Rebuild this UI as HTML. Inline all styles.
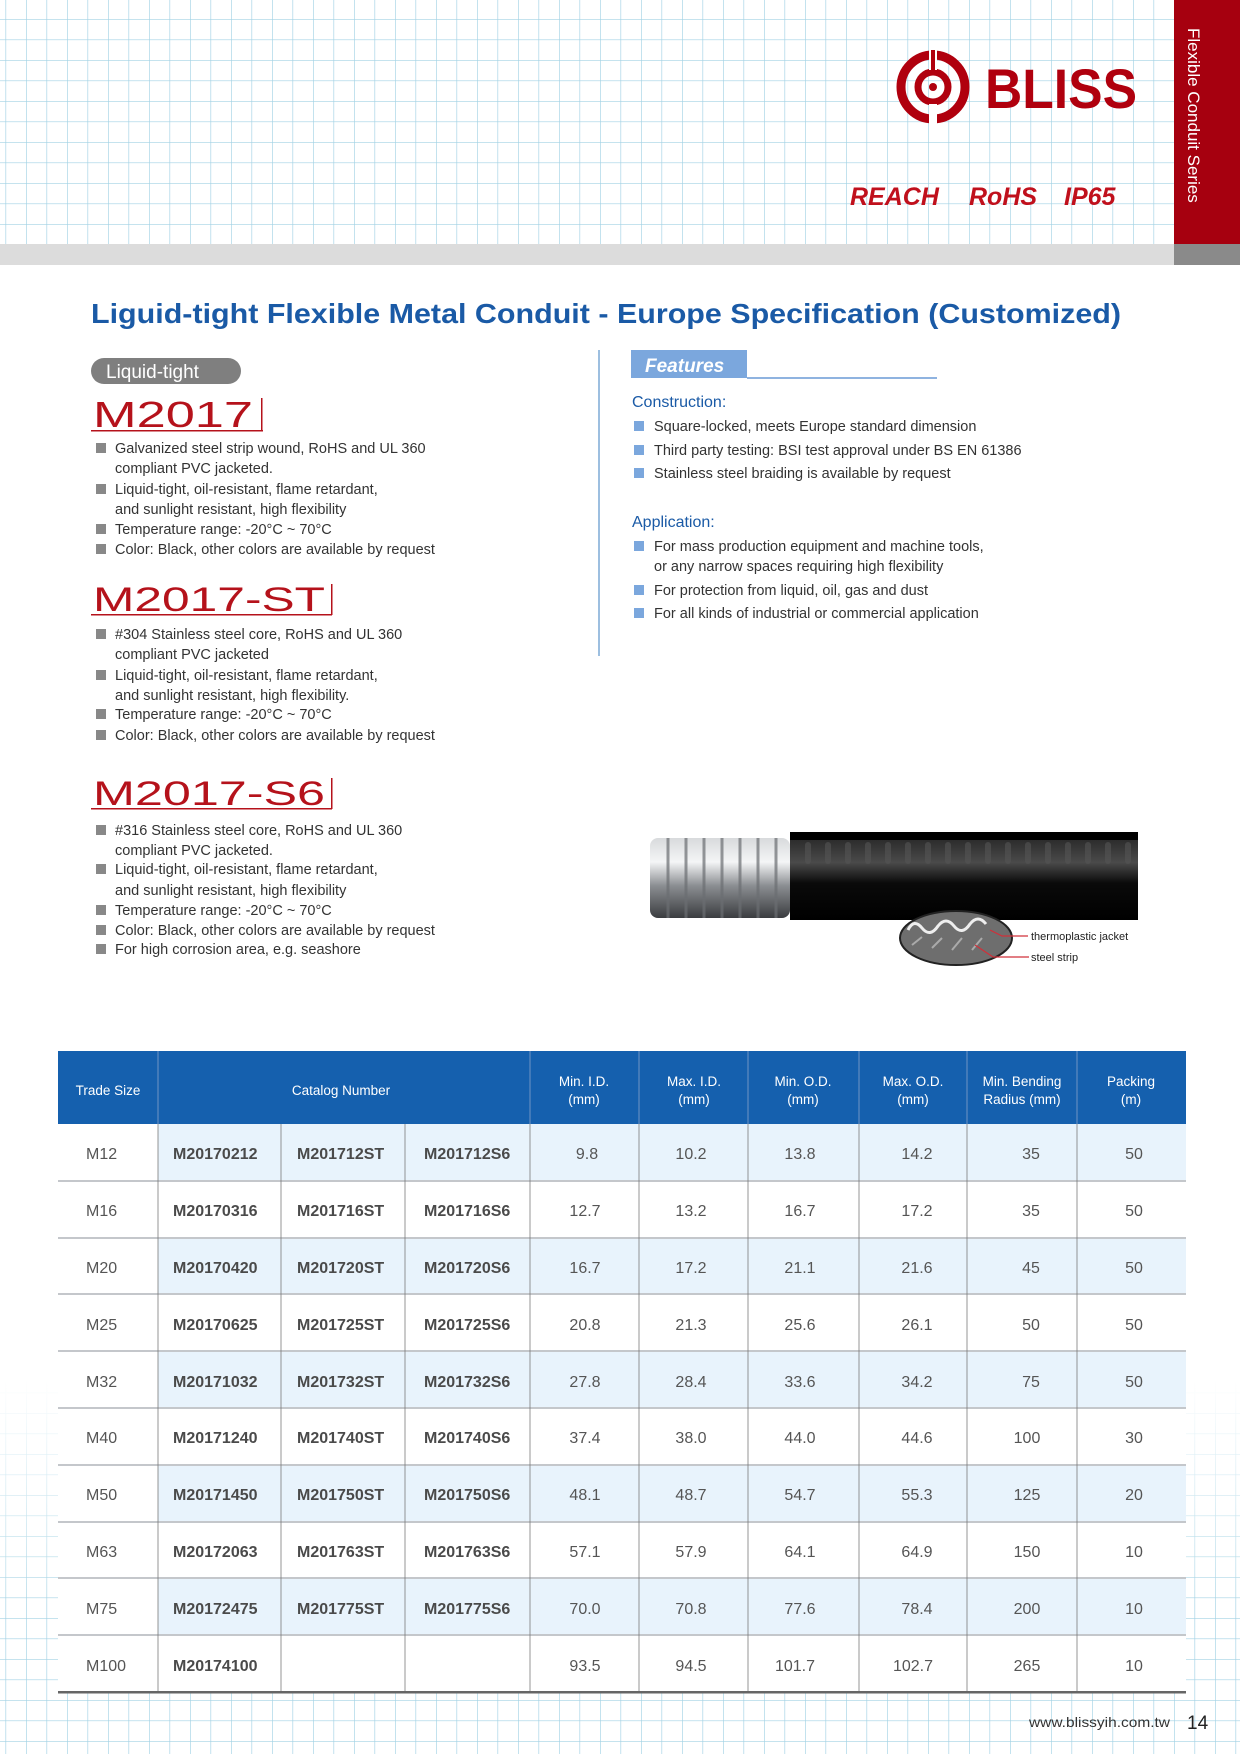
<!DOCTYPE html>
<html><head><meta charset="utf-8"><style>
html,body{margin:0;padding:0;background:#fff}
svg{display:block}
text{font-family:"Liberation Sans",sans-serif}
</style></head><body>
<svg width="1240" height="1754" viewBox="0 0 1240 1754" xmlns="http://www.w3.org/2000/svg">
<defs>
<pattern id="g" x="5.5" y="19" width="20.5" height="20.5" patternUnits="userSpaceOnUse">
<path d="M0 0V20.5M0 0H20.5" stroke="#a2d2e4" stroke-width="1.3" fill="none"/>
</pattern>
<linearGradient id="fade" x1="0" y1="0" x2="0" y2="1">
<stop offset="0" stop-color="#fff" stop-opacity="0"/>
<stop offset="0.6" stop-color="#fff" stop-opacity="1"/>
<stop offset="1" stop-color="#fff" stop-opacity="1"/>
</linearGradient>
<mask id="m"><rect x="0" y="1380" width="1240" height="374" fill="url(#fade)"/></mask>
<linearGradient id="silver" x1="0" y1="0" x2="0" y2="1">
<stop offset="0" stop-color="#d8dadc"/><stop offset="0.3" stop-color="#f4f5f6"/><stop offset="0.6" stop-color="#8a8d91"/><stop offset="1" stop-color="#3b3d40"/>
</linearGradient>
<linearGradient id="black" x1="0" y1="0" x2="0" y2="1">
<stop offset="0" stop-color="#2a2a2a"/><stop offset="0.3" stop-color="#4a4a4a"/><stop offset="0.55" stop-color="#0a0a0a"/><stop offset="1" stop-color="#000"/>
</linearGradient>
</defs>
<rect x="0" y="0" width="1174" height="244" fill="url(#g)"/>
<rect x="0" y="244" width="1174" height="21" fill="#dcdcdc"/>
<rect x="1174" y="0" width="66" height="244" fill="#a6000f"/>
<rect x="1174" y="244" width="66" height="21" fill="#8a8a8a"/>
<text transform="translate(1188,28) rotate(90)" font-size="17" fill="#fff">Flexible Conduit Series</text>
<rect x="0" y="1380" width="1240" height="374" fill="url(#g)" mask="url(#m)"/>
<circle cx="933" cy="87" r="32" fill="none" stroke="#b0000e" stroke-width="9"/>
<circle cx="933" cy="87" r="15" fill="none" stroke="#b0000e" stroke-width="7"/>
<circle cx="933" cy="87" r="4" fill="#b0000e"/>
<rect x="929" y="50" width="8" height="20" fill="#fff"/>
<rect x="931" y="50" width="4" height="22" fill="#b0000e"/>
<rect x="929" y="104" width="8" height="22" fill="#fff"/>
<text x="985" y="108" font-size="56" font-weight="bold" fill="#b0000e" textLength="152" lengthAdjust="spacingAndGlyphs">BLISS</text>
<text x="850" y="205" font-size="25" font-weight="bold" font-style="italic" fill="#c0101c">REACH</text>
<text x="969" y="205" font-size="25" font-weight="bold" font-style="italic" fill="#c0101c">RoHS</text>
<text x="1064" y="205" font-size="25" font-weight="bold" font-style="italic" fill="#c0101c">IP65</text>
<text x="91" y="323" font-size="28" font-weight="bold" fill="#1a5aa6" textLength="1030" lengthAdjust="spacingAndGlyphs">Liguid-tight Flexible Metal Conduit - Europe Specification (Customized)</text>
<rect x="91" y="358" width="150" height="26" rx="13" fill="#7f7f7f"/>
<text x="106" y="378" font-size="19" fill="#fff">Liquid-tight</text>
<g fill="#b5121b">
<text x="93" y="427" font-size="36" textLength="160" lengthAdjust="spacingAndGlyphs">M2017</text>
<rect x="91" y="430" width="172" height="1.5"/><rect x="261" y="398" width="1.5" height="33"/>
<text x="93" y="611" font-size="34" textLength="232" lengthAdjust="spacingAndGlyphs">M2017-ST</text>
<rect x="91" y="614" width="241" height="1.5"/><rect x="331" y="584" width="1.5" height="31"/>
<text x="93" y="805" font-size="34" textLength="232" lengthAdjust="spacingAndGlyphs">M2017-S6</text>
<rect x="91" y="808" width="241" height="1.5"/><rect x="331" y="778" width="1.5" height="31"/>
</g>
<g font-size="14.5" fill="#333">
<g fill="#888">
<rect x="96" y="443" width="10" height="10"/><rect x="96" y="484" width="10" height="10"/><rect x="96" y="524" width="10" height="10"/><rect x="96" y="544" width="10" height="10"/>
<rect x="96" y="629" width="10" height="10"/><rect x="96" y="670" width="10" height="10"/><rect x="96" y="709" width="10" height="10"/><rect x="96" y="730" width="10" height="10"/>
<rect x="96" y="825" width="10" height="10"/><rect x="96" y="864" width="10" height="10"/><rect x="96" y="905" width="10" height="10"/><rect x="96" y="925" width="10" height="10"/><rect x="96" y="944" width="10" height="10"/>
</g>
<text x="115" y="453">Galvanized steel strip wound, RoHS and UL 360</text>
<text x="115" y="473">compliant PVC jacketed.</text>
<text x="115" y="494">Liquid-tight, oil-resistant, flame retardant,</text>
<text x="115" y="514">and sunlight resistant, high flexibility</text>
<text x="115" y="534">Temperature range: -20°C ~ 70°C</text>
<text x="115" y="554">Color: Black, other colors are available by request</text>
<text x="115" y="639">#304 Stainless steel core, RoHS and UL 360</text>
<text x="115" y="659">compliant PVC jacketed</text>
<text x="115" y="680">Liquid-tight, oil-resistant, flame retardant,</text>
<text x="115" y="700">and sunlight resistant, high flexibility.</text>
<text x="115" y="719">Temperature range: -20°C ~ 70°C</text>
<text x="115" y="740">Color: Black, other colors are available by request</text>
<text x="115" y="835">#316 Stainless steel core, RoHS and UL 360</text>
<text x="115" y="855">compliant PVC jacketed.</text>
<text x="115" y="874">Liquid-tight, oil-resistant, flame retardant,</text>
<text x="115" y="895">and sunlight resistant, high flexibility</text>
<text x="115" y="915">Temperature range: -20°C ~ 70°C</text>
<text x="115" y="935">Color: Black, other colors are available by request</text>
<text x="115" y="954">For high corrosion area, e.g. seashore</text>
</g>
<rect x="598" y="350" width="2" height="306" fill="#9dbfe0"/>
<rect x="631" y="350" width="116" height="28" fill="#7ba7dd"/>
<text x="645" y="372" font-size="19" font-weight="bold" font-style="italic" fill="#fff">Features</text>
<rect x="747" y="377" width="190" height="2" fill="#8fb3e0"/>
<g font-size="14.5" fill="#333">
<text x="632" y="407" font-size="16" fill="#1a5aa6">Construction:</text>
<text x="632" y="527" font-size="16" fill="#1a5aa6">Application:</text>
<g fill="#7ba7dd">
<rect x="634" y="421" width="10" height="10"/><rect x="634" y="445" width="10" height="10"/><rect x="634" y="468" width="10" height="10"/>
<rect x="634" y="541" width="10" height="10"/><rect x="634" y="585" width="10" height="10"/><rect x="634" y="608" width="10" height="10"/>
</g>
<text x="654" y="431">Square-locked, meets Europe standard dimension</text>
<text x="654" y="455">Third party testing: BSI test approval under BS EN 61386</text>
<text x="654" y="478">Stainless steel braiding is available by request</text>
<text x="654" y="551">For mass production equipment and machine tools,</text>
<text x="654" y="571">or any narrow spaces requiring high flexibility</text>
<text x="654" y="595">For protection from liquid, oil, gas and dust</text>
<text x="654" y="618">For all kinds of industrial or commercial application</text>
</g>
<rect x="650" y="838" width="140" height="80" rx="8" fill="url(#silver)"/>
<g stroke="#6b6e72" stroke-width="3" opacity="0.7">
<line x1="668" y1="838" x2="668" y2="918"/><line x1="686" y1="838" x2="686" y2="918"/><line x1="704" y1="838" x2="704" y2="918"/><line x1="722" y1="838" x2="722" y2="918"/><line x1="740" y1="838" x2="740" y2="918"/><line x1="758" y1="838" x2="758" y2="918"/><line x1="776" y1="838" x2="776" y2="918"/>
</g>
<rect x="790" y="838" width="348" height="82" fill="url(#black)"/>
<rect x="790" y="832" width="348" height="8" fill="#000"/>
<g fill="#555" opacity="0.6">
<rect x="805" y="842" width="6" height="22" rx="3"/><rect x="825" y="842" width="6" height="22" rx="3"/><rect x="845" y="842" width="6" height="22" rx="3"/><rect x="865" y="842" width="6" height="22" rx="3"/><rect x="885" y="842" width="6" height="22" rx="3"/><rect x="905" y="842" width="6" height="22" rx="3"/><rect x="925" y="842" width="6" height="22" rx="3"/><rect x="945" y="842" width="6" height="22" rx="3"/><rect x="965" y="842" width="6" height="22" rx="3"/><rect x="985" y="842" width="6" height="22" rx="3"/><rect x="1005" y="842" width="6" height="22" rx="3"/><rect x="1025" y="842" width="6" height="22" rx="3"/><rect x="1045" y="842" width="6" height="22" rx="3"/><rect x="1065" y="842" width="6" height="22" rx="3"/><rect x="1085" y="842" width="6" height="22" rx="3"/><rect x="1105" y="842" width="6" height="22" rx="3"/><rect x="1125" y="842" width="6" height="22" rx="3"/>
</g>
<ellipse cx="956" cy="938" rx="56" ry="27" fill="#6e6e6e" stroke="#222" stroke-width="2"/>
<path d="M908 930 q6 -12 14 -2 q8 10 16 -2 q8 -10 16 0 q8 10 16 -2 q8 -10 16 0" fill="none" stroke="#eee" stroke-width="3"/>
<path d="M912 945 l10 -8 M932 948 l10 -10 M952 950 l10 -12 M972 950 l10 -12" stroke="#aaa" stroke-width="2"/>
<path d="M990 930 l12 6 h26 M975 945 l18 12 h36" fill="none" stroke="#d0303a" stroke-width="1.2"/>
<text x="1031" y="940" font-size="11" fill="#222">thermoplastic jacket</text>
<text x="1031" y="961" font-size="11" fill="#222">steel strip</text>
<rect x="58" y="1051" width="1128" height="73" fill="#1560ae"/>
<g stroke="#6f93c4" stroke-width="1">
<line x1="158" y1="1051" x2="158" y2="1124"/><line x1="530" y1="1051" x2="530" y2="1124"/><line x1="639" y1="1051" x2="639" y2="1124"/><line x1="748" y1="1051" x2="748" y2="1124"/><line x1="859" y1="1051" x2="859" y2="1124"/><line x1="967" y1="1051" x2="967" y2="1124"/><line x1="1077" y1="1051" x2="1077" y2="1124"/>
</g>
<g font-size="13.5" fill="#fff" text-anchor="middle">
<text x="108" y="1095">Trade Size</text>
<text x="341" y="1095">Catalog Number</text>
<text x="584" y="1086">Min. I.D.</text><text x="584" y="1104">(mm)</text>
<text x="694" y="1086">Max. I.D.</text><text x="694" y="1104">(mm)</text>
<text x="803" y="1086">Min. O.D.</text><text x="803" y="1104">(mm)</text>
<text x="913" y="1086">Max. O.D.</text><text x="913" y="1104">(mm)</text>
<text x="1022" y="1086">Min. Bending</text><text x="1022" y="1104">Radius (mm)</text>
<text x="1131" y="1086">Packing</text><text x="1131" y="1104">(m)</text>
</g>
<rect x="58" y="1124" width="1128" height="568" fill="#fff"/>
<g fill="#e8f3fc">
<rect x="158" y="1124" width="1028" height="57"/><rect x="158" y="1238" width="1028" height="57"/><rect x="158" y="1351" width="1028" height="57"/><rect x="158" y="1465" width="1028" height="57"/><rect x="158" y="1578" width="1028" height="57"/>
</g>
<g stroke="#c4c7cb" stroke-width="2">
<line x1="58" y1="1181" x2="1186" y2="1181"/><line x1="58" y1="1238" x2="1186" y2="1238"/><line x1="58" y1="1294" x2="1186" y2="1294"/><line x1="58" y1="1351" x2="1186" y2="1351"/><line x1="58" y1="1408" x2="1186" y2="1408"/><line x1="58" y1="1465" x2="1186" y2="1465"/><line x1="58" y1="1522" x2="1186" y2="1522"/><line x1="58" y1="1578" x2="1186" y2="1578"/><line x1="58" y1="1635" x2="1186" y2="1635"/>
</g>
<g stroke="#7a7a7a" stroke-width="0.8">
<line x1="158" y1="1124" x2="158" y2="1692"/><line x1="281" y1="1124" x2="281" y2="1692"/><line x1="405" y1="1124" x2="405" y2="1692"/><line x1="530" y1="1124" x2="530" y2="1692"/><line x1="639" y1="1124" x2="639" y2="1692"/><line x1="748" y1="1124" x2="748" y2="1692"/><line x1="859" y1="1124" x2="859" y2="1692"/><line x1="967" y1="1124" x2="967" y2="1692"/><line x1="1077" y1="1124" x2="1077" y2="1692"/>
</g>
<rect x="58" y="1691" width="1128" height="2.5" fill="#666"/>
<g font-size="16" fill="#555">
<text x="86" y="1159">M12</text><text x="86" y="1216">M16</text><text x="86" y="1273">M20</text><text x="86" y="1330">M25</text><text x="86" y="1387">M32</text><text x="86" y="1443">M40</text><text x="86" y="1500">M50</text><text x="86" y="1557">M63</text><text x="86" y="1614">M75</text><text x="86" y="1671">M100</text>
</g>
<g font-size="16" font-weight="bold" fill="#4a4a4a">
<text x="173" y="1159">M20170212</text><text x="297" y="1159">M201712ST</text><text x="424" y="1159">M201712S6</text>
<text x="173" y="1216">M20170316</text><text x="297" y="1216">M201716ST</text><text x="424" y="1216">M201716S6</text>
<text x="173" y="1273">M20170420</text><text x="297" y="1273">M201720ST</text><text x="424" y="1273">M201720S6</text>
<text x="173" y="1330">M20170625</text><text x="297" y="1330">M201725ST</text><text x="424" y="1330">M201725S6</text>
<text x="173" y="1387">M20171032</text><text x="297" y="1387">M201732ST</text><text x="424" y="1387">M201732S6</text>
<text x="173" y="1443">M20171240</text><text x="297" y="1443">M201740ST</text><text x="424" y="1443">M201740S6</text>
<text x="173" y="1500">M20171450</text><text x="297" y="1500">M201750ST</text><text x="424" y="1500">M201750S6</text>
<text x="173" y="1557">M20172063</text><text x="297" y="1557">M201763ST</text><text x="424" y="1557">M201763S6</text>
<text x="173" y="1614">M20172475</text><text x="297" y="1614">M201775ST</text><text x="424" y="1614">M201775S6</text>
<text x="173" y="1671">M20174100</text>
</g>
<g font-size="16" fill="#555" text-anchor="middle">
<text x="587" y="1159">9.8</text><text x="691" y="1159">10.2</text><text x="800" y="1159">13.8</text><text x="917" y="1159">14.2</text><text x="1031" y="1159">35</text><text x="1134" y="1159">50</text>
<text x="585" y="1216">12.7</text><text x="691" y="1216">13.2</text><text x="800" y="1216">16.7</text><text x="917" y="1216">17.2</text><text x="1031" y="1216">35</text><text x="1134" y="1216">50</text>
<text x="585" y="1273">16.7</text><text x="691" y="1273">17.2</text><text x="800" y="1273">21.1</text><text x="917" y="1273">21.6</text><text x="1031" y="1273">45</text><text x="1134" y="1273">50</text>
<text x="585" y="1330">20.8</text><text x="691" y="1330">21.3</text><text x="800" y="1330">25.6</text><text x="917" y="1330">26.1</text><text x="1031" y="1330">50</text><text x="1134" y="1330">50</text>
<text x="585" y="1387">27.8</text><text x="691" y="1387">28.4</text><text x="800" y="1387">33.6</text><text x="917" y="1387">34.2</text><text x="1031" y="1387">75</text><text x="1134" y="1387">50</text>
<text x="585" y="1443">37.4</text><text x="691" y="1443">38.0</text><text x="800" y="1443">44.0</text><text x="917" y="1443">44.6</text><text x="1027" y="1443">100</text><text x="1134" y="1443">30</text>
<text x="585" y="1500">48.1</text><text x="691" y="1500">48.7</text><text x="800" y="1500">54.7</text><text x="917" y="1500">55.3</text><text x="1027" y="1500">125</text><text x="1134" y="1500">20</text>
<text x="585" y="1557">57.1</text><text x="691" y="1557">57.9</text><text x="800" y="1557">64.1</text><text x="917" y="1557">64.9</text><text x="1027" y="1557">150</text><text x="1134" y="1557">10</text>
<text x="585" y="1614">70.0</text><text x="691" y="1614">70.8</text><text x="800" y="1614">77.6</text><text x="917" y="1614">78.4</text><text x="1027" y="1614">200</text><text x="1134" y="1614">10</text>
<text x="585" y="1671">93.5</text><text x="691" y="1671">94.5</text><text x="795" y="1671">101.7</text><text x="913" y="1671">102.7</text><text x="1027" y="1671">265</text><text x="1134" y="1671">10</text>
</g>
<text x="1029" y="1727" font-size="14" fill="#333" textLength="141" lengthAdjust="spacingAndGlyphs">www.blissyih.com.tw</text>
<text x="1187" y="1729" font-size="19" fill="#222">14</text>
</svg>
</body></html>
